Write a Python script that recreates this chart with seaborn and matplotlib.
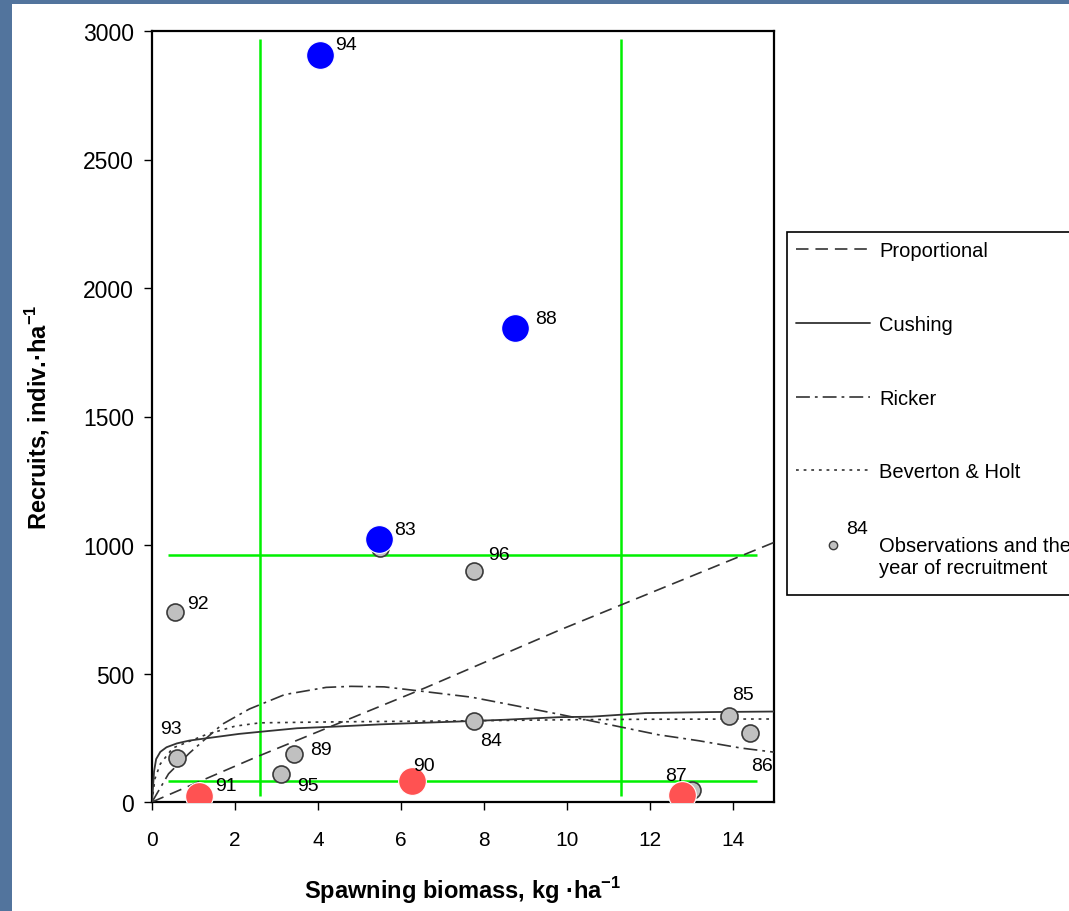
import matplotlib
matplotlib.use("Agg")
import matplotlib.pyplot as plt
from matplotlib.lines import Line2D
from matplotlib.patches import Rectangle
from matplotlib.legend_handler import HandlerLine2D
import pandas as pd
import seaborn as sns

# ---- observed stock / recruitment pairs (year of recruitment) ----
obs_years = ["83", "84", "85", "86", "87", "88", "89", "90", "91", "92", "93", "94", "95", "96"]
obs_biomass = [5.50, 7.76, 13.92, 14.43, 13.03, 8.75, 3.43, 6.26, 1.14, 0.55, 0.60, 4.04, 3.11, 7.77]
obs_recruits = [990, 314, 334, 267, 47, 1845, 188, 80, 27, 740, 170, 2905, 109, 900]

# strong year classes
high_years = ["83", "88", "94"]
high_biomass = [5.48, 8.75, 4.04]
high_recruits = [1023, 1845, 2905]

# weak year classes
low_years = ["91", "90", "87"]
low_biomass = [1.14, 6.26, 12.78]
low_recruits = [25, 80, 28]

# ---- fitted stock-recruitment models ----
prop_biomass = [0, 2.5, 6.6, 9.8, 11.3, 15.0]
prop_recruits = [0, 174, 445, 667, 766, 1010]

cush_biomass = [0, 0.05, 0.1, 0.2, 0.35, 0.6, 0.9, 1.5, 2.1, 2.6, 3.5, 4.5, 5.5,
                6.5, 7.7, 8.5, 9.8, 10.6, 11.9, 13.5, 15.0]
cush_recruits = [0, 120, 167, 195, 213, 228, 239, 252, 265, 273, 287, 294, 302,
                 308, 315, 320, 330, 332, 346, 350, 352]

rick_biomass = [0, 0.4, 0.9, 1.25, 1.7, 2.35, 3.2, 4.2, 4.8, 5.6, 6.4, 7.7, 8.6,
                9.8, 11.3, 12.2, 13.2, 14.2, 15.0]
rick_recruits = [0, 110, 190, 240, 303, 362, 418, 446, 450, 448, 433, 408, 380,
                 342, 292, 262, 238, 210, 194]

bh_biomass = [0, 0.07, 0.2, 0.5, 1.3, 2.0, 2.6, 4.5, 7.7, 10.0, 12.0, 15.0]
bh_recruits = [0, 90, 148, 210, 262, 295, 308, 312, 316, 320, 322, 323]

# ---- reference levels (green guide lines) ----
biomass_limits = [2.6, 11.3]
recruit_limits = [80, 963]
guide_recruit_span = [22, 2968]
guide_biomass_span = [0.39, 14.6]

legend_labels = ["Proportional", "Cushing", "Ricker", "Beverton & Holt",
                 "Observations and the\nyear of recruitment"]

sns.set_style("ticks")
plt.rcParams["font.family"] = ["Liberation Sans", "DejaVu Sans"]
plt.rcParams["mathtext.fontset"] = "custom"
plt.rcParams["mathtext.rm"] = "Liberation Sans"
plt.rcParams["mathtext.bf"] = "Liberation Sans:bold"
plt.rcParams["lines.scale_dashes"] = False
for key in ["text.color", "axes.labelcolor", "xtick.color", "ytick.color",
            "xtick.labelcolor", "ytick.labelcolor"]:
    plt.rcParams[key] = "black"

W, H = 1069, 912
fig = plt.figure(figsize=(W / 100, H / 100), dpi=100, facecolor="#52749d")
fig.patches.append(Rectangle((12 / W, 0), 1, 1 - 5 / H, transform=fig.transFigure,
                             facecolor="white", edgecolor="none", zorder=-1))

ax = fig.add_axes([152 / W, 1 - 803 / H, 622 / W, 771 / H])
ax.set_facecolor("white")

curve_color = "#333333"
dash_prop = (9, 5)
dash_rick = (10, 3.6, 2, 3.6)
dash_bh = (2, 3.5)

sns.lineplot(x=prop_biomass, y=prop_recruits, ax=ax, color=curve_color, lw=1.2,
             linestyle=(0, dash_prop), errorbar=None, zorder=3)
sns.lineplot(x=cush_biomass, y=cush_recruits, ax=ax, color=curve_color, lw=1.3,
             errorbar=None, zorder=3)
sns.lineplot(x=rick_biomass, y=rick_recruits, ax=ax, color=curve_color, lw=1.2,
             linestyle=(0, dash_rick), errorbar=None, zorder=3)
sns.lineplot(x=bh_biomass, y=bh_recruits, ax=ax, color=curve_color, lw=1.2,
             linestyle=(0, dash_bh), errorbar=None, zorder=3)

green = "#00f000"
for b in biomass_limits:
    ax.plot([b, b], guide_recruit_span, color=green, lw=1.8, zorder=2,
            solid_capstyle="butt")
for r in recruit_limits:
    ax.plot(guide_biomass_span, [r, r], color=green, lw=1.8, zorder=2,
            solid_capstyle="butt")

obs = pd.DataFrame({"year": obs_years, "biomass": obs_biomass, "recruits": obs_recruits})
sns.scatterplot(data=obs, x="biomass", y="recruits", ax=ax, s=150, color="#c0c0c0",
                edgecolor="#3a3a3a", linewidth=1.2, zorder=4, legend=False)
sns.scatterplot(x=high_biomass, y=high_recruits, ax=ax, s=400, color="#0000ff",
                edgecolor="white", linewidth=0.8, zorder=5, legend=False)
sns.scatterplot(x=low_biomass, y=low_recruits, ax=ax, s=400, color="#ff5252",
                edgecolor="white", linewidth=0.8, zorder=5, legend=False)

# year labels, offsets in pixels from each observation
label_offsets = {
    "83": (25, 18), "84": (17, -19), "85": (14, 22), "86": (12, -32),
    "87": (-16, 14), "88": (31, 9), "89": (27, 4), "90": (12, 16),
    "91": (27, 10), "92": (23, 8), "93": (-6, 30), "94": (26, 11),
    "95": (27, -12), "96": (25, 16),
}
for yr, b, r in zip(obs_years, obs_biomass, obs_recruits):
    ax.annotate(yr, (b, r), xytext=label_offsets[yr], textcoords="offset pixels",
                ha="center", va="center", fontsize=14, color="black", zorder=6)

ax.set_xlim(0, 15)
ax.set_ylim(0, 3000)
ax.set_xticks(range(0, 15, 2))
ax.set_yticks(range(0, 3001, 500))
ax.tick_params(axis="both", direction="out", length=6, width=1, colors="black")
ax.tick_params(axis="x", pad=14, labelsize=15)
ax.tick_params(axis="y", pad=7, labelsize=16.5)
for sp in ax.spines.values():
    sp.set_visible(True)
    sp.set_color("black")
    sp.set_linewidth(1.6)

ax.set_xlabel("Spawning biomass, kg ·ha$^{\\mathbf{-1}}$", fontsize=17,
              fontweight="bold")
ax.set_ylabel("Recruits, indiv.·ha$^{\\mathbf{-1}}$", fontsize=17,
              fontweight="bold")
ax.xaxis.set_label_coords(0.5, -0.093)
ax.yaxis.set_label_coords(-0.16, 0.5)


class RaisedMarkerHandler(HandlerLine2D):
    """Marker sits level with the first line of a two-line label."""

    def create_artists(self, legend, orig_handle, xdescent, ydescent, width,
                       height, fontsize, trans):
        artists = super().create_artists(legend, orig_handle, xdescent, ydescent,
                                         width, height, fontsize, trans)
        for a in artists:
            a.set_ydata([y + 0.62 * fontsize for y in a.get_ydata()])
        return artists


# legend frame (runs off the right edge of the figure)
fig.patches.append(Rectangle((787 / W, 1 - 596 / H), 0.5, (596 - 233) / H,
                             transform=fig.transFigure, facecolor="white",
                             edgecolor="black", linewidth=1.2, zorder=4))

obs_handle = Line2D([], [], ls="none", marker="o", markersize=6,
                    markerfacecolor="#c0c0c0", markeredgecolor="#3a3a3a",
                    markeredgewidth=1)
handles = [
    Line2D([], [], color=curve_color, lw=1.2, linestyle=(0, dash_prop)),
    Line2D([], [], color=curve_color, lw=1.3),
    Line2D([], [], color=curve_color, lw=1.2, linestyle=(0, dash_rick)),
    Line2D([], [], color=curve_color, lw=1.2, linestyle=(0, dash_bh)),
    obs_handle,
]
leg = fig.legend(handles, legend_labels, loc="upper left",
                 bbox_to_anchor=(787 / W, 1 - 233 / H), bbox_transform=fig.transFigure,
                 fontsize=14.5, frameon=False, borderaxespad=0, borderpad=0.45,
                 handlelength=3.67, handletextpad=0.45, labelspacing=2.72,
                 handler_map={obs_handle: RaisedMarkerHandler()})
leg.set_zorder(6)
fig.text(857 / W, 1 - 530 / H, "84", fontsize=14, ha="center", va="center",
         zorder=10)

fig.savefig("out.png", dpi=100, facecolor=fig.get_facecolor())
